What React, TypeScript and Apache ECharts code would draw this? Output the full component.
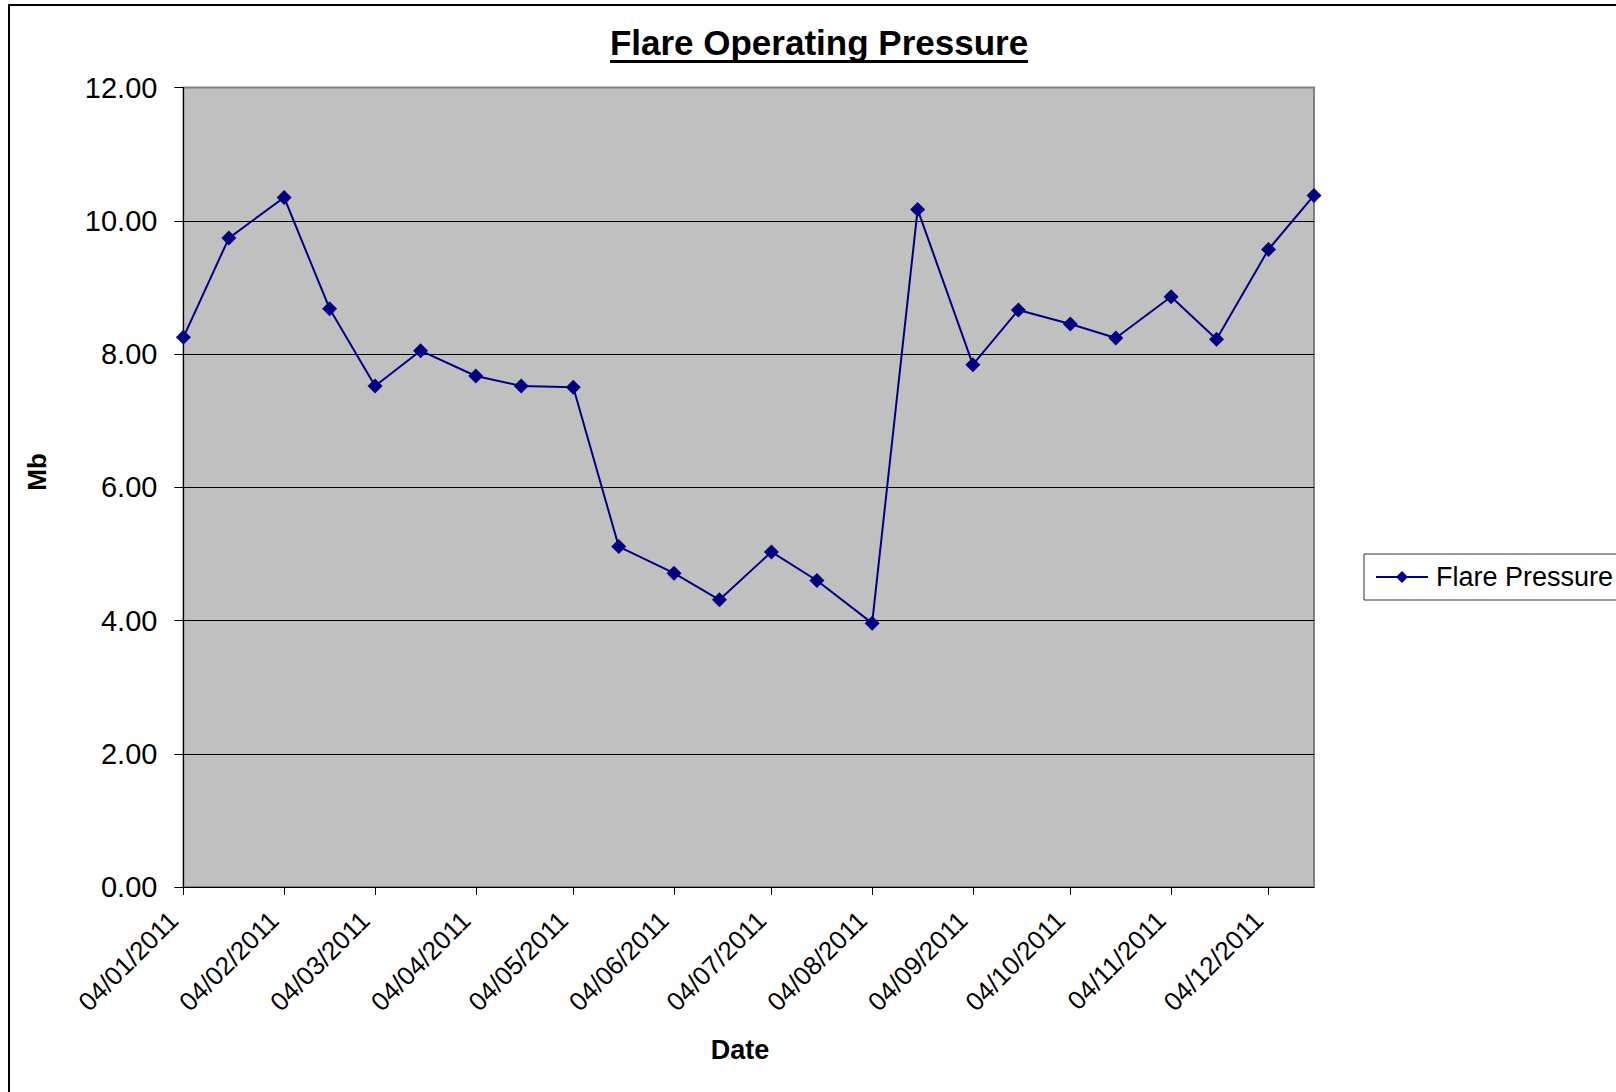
import React, { useEffect, useRef } from "react";
import * as echarts from "echarts";

// Sample dates (4th and 18th of each month, 2011)
const dates = [
  "2011-01-04", "2011-01-18", "2011-02-04", "2011-02-18", "2011-03-04", "2011-03-18",
  "2011-04-04", "2011-04-18", "2011-05-04", "2011-05-18", "2011-06-04", "2011-06-18",
  "2011-07-04", "2011-07-18", "2011-08-04", "2011-08-18", "2011-09-04", "2011-09-18",
  "2011-10-04", "2011-10-18", "2011-11-04", "2011-11-18", "2011-12-04", "2011-12-18",
];

// Flare pressure (Mb)
const pressure = [
  8.25, 9.74, 10.35, 8.68, 7.52, 8.05,
  7.67, 7.52, 7.5, 5.11, 4.71, 4.31,
  5.03, 4.6, 3.96, 10.17, 7.84, 8.66,
  8.45, 8.24, 8.86, 8.22, 9.57, 10.38,
];

// Major tick dates on the x axis
const tickDates = [
  "2011-01-04", "2011-02-04", "2011-03-04", "2011-04-04", "2011-05-04", "2011-06-04",
  "2011-07-04", "2011-08-04", "2011-09-04", "2011-10-04", "2011-11-04", "2011-12-04",
];

const seriesName = "Flare Pressure";
const titleText = "Flare Operating Pressure";
const xName = "Date";
const yName = "Mb";

const FONT = "'Liberation Sans', Arial, Helvetica, sans-serif";

const ts = (s: string) => {
  const [y, m, d] = s.split("-").map(Number);
  return new Date(y, m - 1, d).getTime();
};
const pad = (n: number) => (n < 10 ? "0" + n : "" + n);
const fmtDate = (v: number) => {
  const d = new Date(v);
  return pad(d.getDate()) + "/" + pad(d.getMonth() + 1) + "/" + d.getFullYear();
};

export default function App() {
  const ref = useRef<HTMLDivElement>(null);

  useEffect(() => {
    if (!ref.current) return;
    const chart = echarts.init(ref.current, undefined, { renderer: "svg" });
    const tickVals = tickDates.map(ts);
    const option: any = {
      animation: false,
      backgroundColor: "#ffffff",
      textStyle: { fontFamily: FONT },
      graphic: [
        {
          type: "rect",
          shape: { x: 9, y: 5, width: 1700, height: 1200 },
          style: { fill: "none", stroke: "#000", lineWidth: 2 },
          silent: true,
          z: 100,
        },
        {
          type: "text",
          x: 819,
          y: 42,
          style: {
            text: titleText,
            font: "bold 35px " + FONT,
            fill: "#000",
            textAlign: "center",
            textVerticalAlign: "middle",
          },
        },
        {
          type: "line",
          shape: { x1: 610, y1: 61.5, x2: 1028, y2: 61.5 },
          style: { stroke: "#000", lineWidth: 3 },
        },
        {
          type: "text",
          x: 37,
          y: 472,
          rotation: Math.PI / 2,
          style: {
            text: yName,
            font: "bold 26px " + FONT,
            fill: "#000",
            textAlign: "center",
            textVerticalAlign: "middle",
          },
        },
        {
          type: "text",
          x: 740,
          y: 1050,
          style: {
            text: xName,
            font: "bold 27px " + FONT,
            fill: "#000",
            textAlign: "center",
            textVerticalAlign: "middle",
          },
        },
      ],
      grid: {
        left: 183.4,
        top: 87.5,
        right: 302,
        bottom: 205,
        show: true,
        backgroundColor: "#C0C0C0",
        borderColor: "#808080",
        borderWidth: 2,
      },
      legend: {
        left: 1364,
        top: 554,
        orient: "horizontal",
        padding: [9, 20, 9, 11],
        itemWidth: 52,
        itemHeight: 15,
        borderColor: "#333",
        borderWidth: 1,
        backgroundColor: "#fff",
        textStyle: { fontSize: 27, color: "#000", fontFamily: FONT, lineHeight: 28, padding: [0, 0, 0, 3] },
        data: [seriesName],
      },
      xAxis: {
        type: "value",
        min: ts(dates[0]),
        max: ts(dates[dates.length - 1]),
        axisLine: { show: true, lineStyle: { color: "#000", width: 1 } },
        axisTick: { show: true, length: 8, customValues: tickVals, lineStyle: { color: "#000" } },
        axisLabel: {
          customValues: tickVals,
          rotate: 45,
          margin: 19,
          padding: [0, 14, 0, 0],
          fontSize: 26,
          color: "#000",
          fontFamily: FONT,
          formatter: (v: number) => fmtDate(v),
          hideOverlap: false,
        },
        splitLine: { show: false },
      },
      yAxis: {
        type: "value",
        min: 0,
        max: 12,
        interval: 2,
        axisLine: { show: true, lineStyle: { color: "#000", width: 1 } },
        axisTick: { show: true, length: 9, lineStyle: { color: "#000" } },
        axisLabel: {
          formatter: (v: number) => v.toFixed(2),
          fontSize: 29,
          margin: 26,
          color: "#000",
          fontFamily: FONT,
        },
        splitLine: { show: true, showMaxLine: false, lineStyle: { color: "#000", width: 1 } },
      },
      series: [
        {
          name: seriesName,
          type: "line",
          clip: false,
          symbol: "diamond",
          symbolSize: 15,
          lineStyle: { color: "#000080", width: 2 },
          itemStyle: { color: "#000080" },
          data: dates.map((d, i) => [ts(d), pressure[i]]),
        },
      ],
    };
    chart.setOption(option);
    return () => chart.dispose();
  }, []);

  return (
    <div
      ref={ref}
      style={{ position: "absolute", left: 0, top: 0, width: "1616px", height: "1092px" }}
    />
  );
}
